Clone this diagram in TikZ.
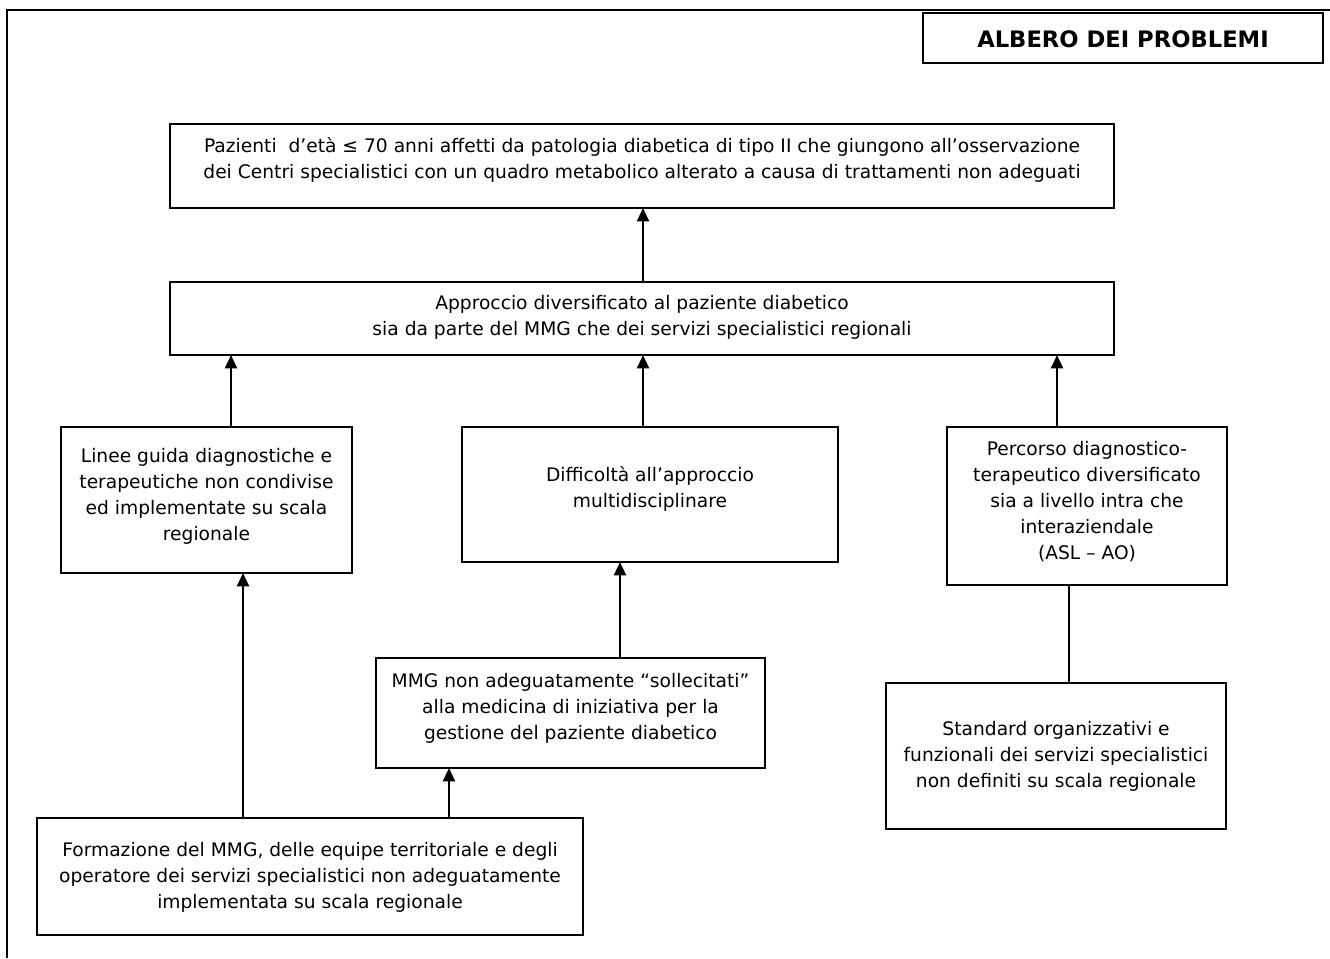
\documentclass[tikz,border=0pt]{standalone}
\usepackage{fontspec}
\setmainfont{DejaVu Sans}
\usetikzlibrary{arrows.meta}
\begin{document}
\begin{tikzpicture}[x=0.75pt,y=-0.75pt,
  box/.style={draw, rectangle, line width=1.3pt, inner sep=0pt, outer sep=0pt},
  wh/.style 2 args={minimum width={#1*0.75pt}, minimum height={#2*0.75pt}},
  txt/.style={align=center, inner sep=0pt, font=\fontsize{14pt}{19.5pt}\selectfont},
  ttl/.style={align=center, inner sep=0pt, font=\bfseries\fontsize{17pt}{20pt}\selectfont},
  arr/.style={line width=1.6pt, -{Triangle[width=9pt,length=10pt]}},
  link/.style={line width=1.6pt},
  frame/.style={line width=2pt}]
\useasboundingbox (0,0) rectangle (1330,958);
% frame
\coordinate (fb) at (7,958);
\coordinate (fc) at (7,10);
\coordinate (fr) at (1330,10);
\draw[frame] (fb) -- (fc) -- (fr);

% boxes
\node[box, wh={400}{50}] (title) at (1123,38) {};
\node[ttl] (title-t) at (1123,39) {ALBERO DEI PROBLEMI};

\node[box, wh={944}{84}] (top) at (642,166) {};
\node[txt] (top-t) at (642,160) {Pazienti\ \ d’età ≤ 70 anni affetti da patologia diabetica di tipo II che giungono all’osservazione\\dei Centri specialistici con un quadro metabolico alterato a causa di trattamenti non adeguati};

\node[box, wh={944}{73}] (app) at (642,318.5) {};
\node[txt] (app-t) at (642,317) {Approccio diversificato al paziente diabetico\\sia da parte del MMG che dei servizi specialistici regionali};

\node[box, wh={291}{146}] (linee) at (206.5,500) {};
\node[txt] (linee-t) at (206.5,496) {Linee guida diagnostiche e\\terapeutiche non condivise\\ed implementate su scala\\regionale};

\node[box, wh={376}{135}] (diff) at (650,494.5) {};
\node[txt] (diff-t) at (650,489) {Difficoltà all’approccio\\multidisciplinare};

\node[box, wh={280}{158}] (perc) at (1087,506) {};
\node[txt] (perc-t) at (1087,502) {Percorso diagnostico-\\terapeutico diversificato\\sia a livello intra che\\interaziendale\\(ASL – AO)};

\node[box, wh={340}{146}] (std) at (1056,756) {};
\node[txt] (std-t) at (1056,756) {Standard organizzativi e\\funzionali dei servizi specialistici\\non definiti su scala regionale};

\node[box, wh={389}{110}] (mmg) at (570.5,713) {};
\node[txt] (mmg-t) at (570.5,708) {MMG non adeguatamente “sollecitati”\\alla medicina di iniziativa per la\\gestione del paziente diabetico};

\node[box, wh={546}{117}] (form) at (310,876.5) {};
\node[txt] (form-t) at (310,877) {Formazione del MMG, delle equipe territoriale e degli\\operatore dei servizi specialistici non adeguatamente\\implementata su scala regionale};

% connector x positions
\coordinate (x1) at (643,0);
\coordinate (x2) at (231,0);
\coordinate (x3) at (1057,0);
\coordinate (x4) at (620,0);
\coordinate (x5) at (243,0);
\coordinate (x6) at (449,0);
\coordinate (x7) at (1069,0);

\draw[arr] (app.north -| x1) -- (top.south -| x1);
\draw[arr] (linee.north -| x2) -- (app.south -| x2);
\draw[arr] (diff.north -| x1) -- (app.south -| x1);
\draw[arr] (perc.north -| x3) -- (app.south -| x3);
\draw[arr] (mmg.north -| x4) -- (diff.south -| x4);
\draw[arr] (form.north -| x5) -- (linee.south -| x5);
\draw[arr] (form.north -| x6) -- (mmg.south -| x6);
\draw[link] (perc.south -| x7) -- (std.north -| x7);
\end{tikzpicture}
\end{document}
